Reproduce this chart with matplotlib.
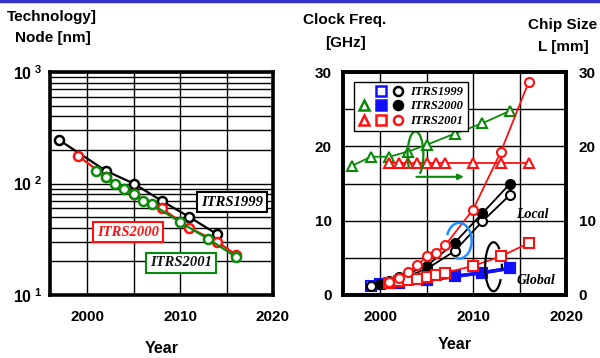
import numpy as np
import matplotlib
matplotlib.use('Agg')
import matplotlib.pyplot as plt
from matplotlib.patches import Arc
from matplotlib.lines import Line2D
from matplotlib.legend_handler import HandlerTuple

plt.rcParams['font.family'] = ['Liberation Sans', 'DejaVu Sans']
plt.rcParams['font.weight'] = 'bold'
plt.rcParams['mathtext.fontset'] = 'custom'
plt.rcParams['mathtext.rm'] = 'Liberation Sans:bold'
plt.rcParams['mathtext.bf'] = 'Liberation Sans:bold'

# ---- technology node (left) ----
node99_yr = [1997, 2002, 2005, 2008, 2011, 2014]
node99 = [245, 130, 100, 70, 50, 35]
node00_yr = [1999, 2002, 2005, 2008, 2011, 2014, 2016]
node00 = [178, 115, 80, 60, 40, 30, 23]
node01_yr = [2001, 2002, 2003, 2004, 2005, 2006, 2007, 2010, 2013, 2016]
node01 = [130, 115, 100, 90, 80, 70, 65, 45, 32, 22]

# ---- clock / chip size (right) ----
chip00_yr = [1997, 1999, 2001, 2003, 2005, 2008, 2011, 2014]
chip00 = [17.4, 18.6, 18.6, 19.3, 20.2, 21.7, 23.1, 24.8]
chip01_yr = [2001, 2002, 2003, 2004, 2005, 2006, 2007, 2010, 2013, 2016]
chip01 = [17.7] * 10

loc99_yr = [1999, 2002, 2005, 2008, 2011, 2014]
loc99 = [1.25, 2.1, 3.5, 5.9, 9.9, 13.5]
loc00_yr = [2000, 2001, 2002, 2005, 2008, 2011, 2014]
loc00 = [1.5, 1.9, 2.4, 3.9, 7.0, 11.0, 15.0]
loc01_yr = [2001, 2002, 2003, 2004, 2005, 2006, 2007, 2010, 2013, 2016]
loc01 = [1.7, 2.3, 3.1, 4.0, 5.2, 5.6, 6.7, 11.5, 19.3, 28.7]

glob99_yr = [1999, 2002, 2005, 2008, 2011, 2014]
glob99 = [1.2, 1.6, 2.0, 2.5, 3.0, 3.6]
glob00_yr = [2000, 2005, 2008, 2011, 2014]
glob00 = [1.5, 2.0, 2.5, 3.0, 3.6]
glob01_yr = [2001, 2002, 2003, 2004, 2005, 2006, 2007, 2010, 2013, 2016]
glob01 = [1.6, 1.9, 2.0, 2.2, 2.4, 2.7, 3.0, 3.9, 5.2, 7.0]

GREEN = '#0a8a0a'
RED = '#ff1010'
BLUE = '#1010ff'

fig = plt.figure(figsize=(6, 3.58), dpi=100)
fig.add_artist(Line2D([0, 1], [0.997, 0.997], color='#3333cc', lw=2.5, transform=fig.transFigure))

ax1 = fig.add_axes([50 / 600, 1 - 295 / 358, 223 / 600, 223 / 358])
ax2 = fig.add_axes([343 / 600, 1 - 295 / 358, 223 / 600, 223 / 358])

# left plot
ax1.set_yscale('log')
ax1.set_ylim(10, 1000)
ax1.set_xlim(1996, 2020)
ax1.set_xticks([2000, 2010, 2020])
ax1.set_xticks([2005, 2015], minor=True)
ax1.set_yticks([10, 100, 1000])
ax1.set_yticklabels([r'$10^{\ 1}$', r'$10^{\ 2}$', r'$10^{\ 3}$'])
ax1.grid(True, which='both', color='black', lw=1)
mk = dict(marker='o', ms=6.5, mew=1.8, mfc='white', lw=1.6)
ax1.plot(node99_yr, node99, color='black', zorder=3, **mk)
ax1.plot(node00_yr, node00, color=RED, zorder=4, **mk)
ax1.plot(node01_yr, node01, color=GREEN, zorder=5, **mk)
box = dict(boxstyle='square,pad=0.25', fc='white', lw=1.5)
tf = dict(family=['Liberation Serif'], style='italic', weight='bold', fontsize=10.5,
          ha='center', va='center', zorder=6)
ax1.text(2015.6, 68, 'ITRS1999', color='black', bbox=dict(ec='black', **box), **tf)
ax1.text(2004.4, 36.5, 'ITRS2000', color=RED, bbox=dict(ec=RED, **box), **tf)
ax1.text(2010.1, 19.4, 'ITRS2001', color='#111111', bbox=dict(ec=GREEN, **box), **tf)

# right plot
ax2.set_xlim(1996, 2020)
ax2.set_ylim(0, 30)
ax2.set_xticks([2000, 2010, 2020])
ax2.set_xticks([2005, 2015], minor=True)
ax2.set_yticks([0, 10, 20, 30])
ax2.set_yticks([5, 15, 25], minor=True)
ax2.grid(True, which='both', color='black', lw=1)
tri = dict(marker='^', ms=7, mew=1.5, mfc='white', lw=1.3, zorder=3)
sq = dict(marker='s', ms=6.5, mew=1.5, zorder=3)
ci = dict(marker='o', ms=6.5, mew=1.5, lw=1.3)
ax2.plot(chip00_yr, chip00, color=GREEN, **tri)
ax2.plot(chip01_yr, chip01, color=RED, **tri)
ax2.plot(glob99_yr, glob99, color=BLUE, mfc='white', lw=2.5, **sq)
ax2.plot(glob00_yr, glob00, color=BLUE, mfc=BLUE, lw=2.5, **sq)
ax2.plot(loc99_yr, loc99, color='black', mfc='white', zorder=4, **ci)
ax2.plot(loc00_yr, loc00, color='black', mfc='black', zorder=4, **ci)
ax2.plot(glob01_yr, glob01, color=RED, marker='s', ms=6.5, mew=1.5, mfc='white', lw=1.3, zorder=5)
ax2.plot(loc01_yr, loc01, color=RED, mfc='white', zorder=5, **ci)

# arcs / arrows
ax2.add_patch(Arc((2003.8, 18.9), 1.7, 6.2, theta1=-80, theta2=250, color=GREEN, lw=1.6, zorder=6))
ax2.annotate('', xy=(2009.3, 15.9), xytext=(2003.6, 15.9),
             arrowprops=dict(arrowstyle='-|>', color=GREEN, lw=1.5, mutation_scale=8), zorder=6)
ax2.add_patch(Arc((2008.5, 7.3), 2.7, 4.8, theta1=-100, theta2=150,
                  color='#1e90ff', lw=1.8, zorder=6))
ax2.add_patch(Arc((2012.2, 3.8), 1.8, 6.6, theta1=75, theta2=295, color='black', lw=1.6, zorder=6))
ax2.add_patch(Arc((2012.2, 3.8), 1.8, 6.6, theta1=-25, theta2=25, color='black', lw=1.6, zorder=6))
lt = dict(family=['Liberation Serif'], style='italic', weight='bold', fontsize=10, ha='left', va='center')
ax2.text(2014.6, 10.8, 'Local', **lt)
ax2.text(2014.7, 1.9, 'Global', **lt)

# legend proxies (markers only)
def proxy(color, marker, mfc):
    return Line2D([], [], ls='none', color=color, marker=marker, ms=6.5, mew=1.8, mfc=mfc)

blank = Line2D([], [], ls='none')
rows = [(blank, proxy(BLUE, 's', 'white'), proxy('black', 'o', 'white')),
        (proxy(GREEN, '^', 'white'), proxy(BLUE, 's', BLUE), proxy('black', 'o', 'black')),
        (proxy(RED, '^', 'white'), proxy(RED, 's', 'white'), proxy(RED, 'o', 'white'))]
leg = ax2.legend(rows, ['ITRS1999', 'ITRS2000', 'ITRS2001'],
                 handler_map={tuple: HandlerTuple(ndivide=None, pad=0.5)},
                 loc='upper left', bbox_to_anchor=(0.02, 0.985), frameon=True, fancybox=False,
                 edgecolor='black', framealpha=1, handlelength=3.6, handletextpad=0.6,
                 borderpad=0.35, labelspacing=0.2,
                 prop=dict(family='Liberation Serif', style='italic', weight='bold', size=9))
leg.get_frame().set_linewidth(1.0)
leg.set_zorder(7)

ax2r = ax2.twinx()
ax2r.set_ylim(0, 30)
ax2r.set_yticks([0, 10, 20, 30])

for ax in (ax1, ax2, ax2r):
    for s in ax.spines.values():
        s.set_linewidth(2.6)
    ax.tick_params(which='both', length=0, labelsize=11)
    ax.tick_params(axis='x', pad=11)
ax1.tick_params(axis='y', pad=5, labelsize=11.5)
ax2.tick_params(axis='y', pad=8)
ax2r.tick_params(axis='y', pad=9)

ax1.set_xlabel('Year', fontsize=11.5, fontweight='bold', labelpad=12)
ax2.set_xlabel('Year', fontsize=11.5, fontweight='bold', labelpad=9)

tt = dict(fontsize=11, weight='bold', va='top')
fig.text(7 / 600, 1 - 10 / 358, 'Technology]', ha='left', **tt)
fig.text(15 / 600, 1 - 31 / 358, 'Node [nm]', ha='left', **tt)
fig.text(303 / 600, 1 - 13 / 358, 'Clock Freq.', ha='left', **tt)
fig.text(325 / 600, 1 - 36 / 358, '[GHz]', ha='left', **tt)
fig.text(597 / 600, 1 - 18 / 358, 'Chip Size', ha='right', **tt)
fig.text(589 / 600, 1 - 40 / 358, 'L [mm]', ha='right', **tt)

fig.savefig('out.png', dpi=100)
